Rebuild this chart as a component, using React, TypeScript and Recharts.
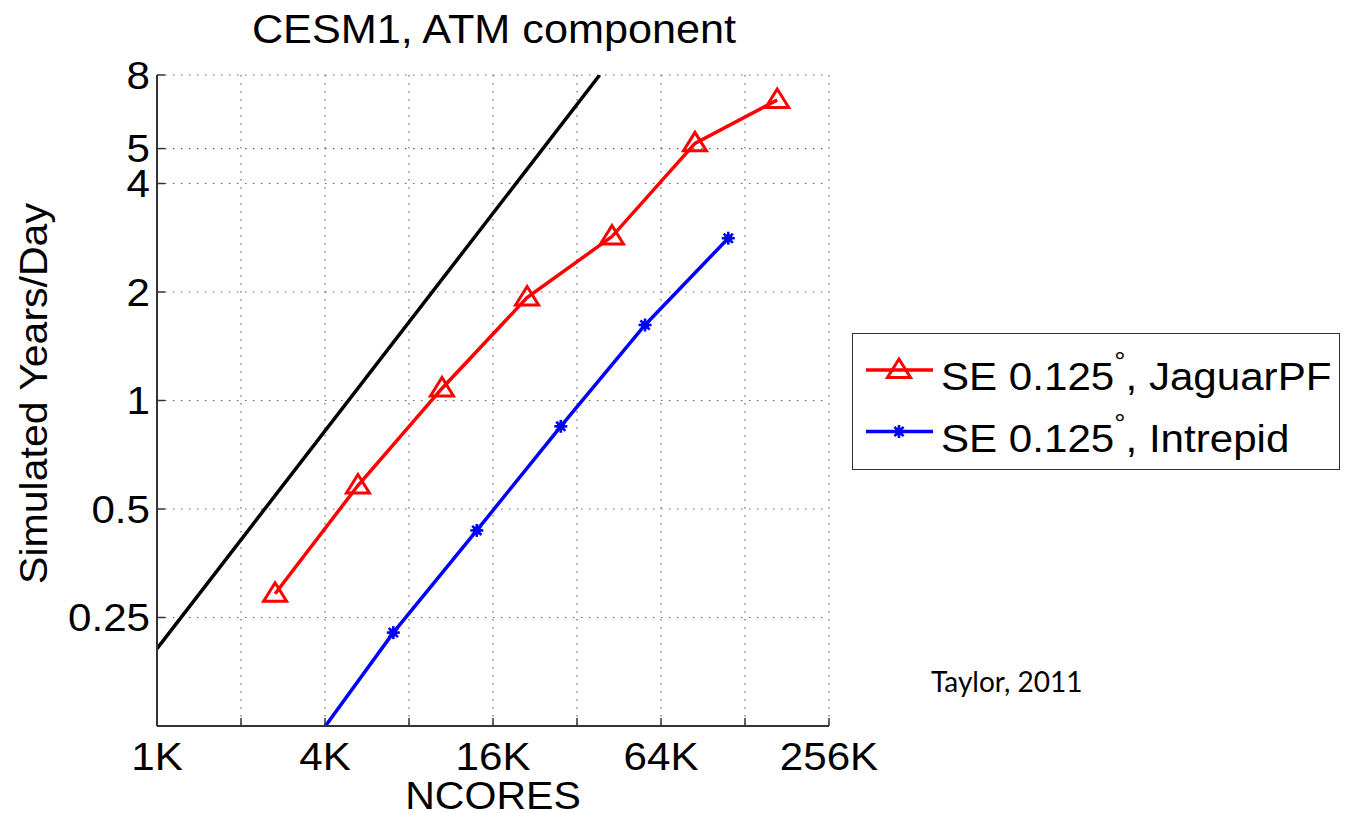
import React from 'react';
import { LineChart, Line, XAxis, YAxis, CartesianGrid, Legend } from 'recharts';

// ---------- data (x in thousands of cores) ----------
const xTicks = [1, 2, 4, 8, 16, 32, 64, 128, 256];
const xTickLabels: Record<number, string> = { 1: '1K', 4: '4K', 16: '16K', 64: '64K', 256: '256K' };
const yTicks = [0.25, 0.5, 1, 2, 4, 5, 8];

const jaguarCores = [2.65, 5.25, 10.5, 21.2, 42.7, 84.7, 167];
const jaguarRate = [0.291, 0.581, 1.08, 1.93, 2.85, 5.17, 6.82];

const intrepidCores = [3.53, 7.03, 14.0, 28.0, 56.1, 111.5];
const intrepidRate = [0.109, 0.227, 0.436, 0.848, 1.62, 2.82];

const idealCores = [1, 38.6];
const idealRate = [0.205, 8];

const jaguarName = 'SE 0.125°, JaguarPF';
const intrepidName = 'SE 0.125°, Intrepid';
const legendOrder = [jaguarName, intrepidName];

const jaguarData = jaguarCores.map((x, i) => ({ x, y: jaguarRate[i] }));
const intrepidData = intrepidCores.map((x, i) => ({ x, y: intrepidRate[i] }));
const idealData = idealCores.map((x, i) => ({ x, y: idealRate[i] }));

const X_DOMAIN: [number, number] = [1, 256];
const Y_DOMAIN: [number, number] = [0.125, 8];

const FONT = "'Liberation Sans', Arial, Helvetica, sans-serif";
const AXIS_COLOR = '#333';
const TICK_LEN = 8;
const SX = 1.08; // horizontal stretch of the original lettering

const SText = ({ x, y, anchor = 'start', size, rotate = 0, children }: any) => (
  <text
    transform={`translate(${x} ${y}) rotate(${rotate}) scale(${SX} 1)`}
    textAnchor={anchor}
    fontFamily={FONT}
    fontSize={size}
    fill="#000"
  >
    {children}
  </text>
);

// ---------- markers ----------
const Triangle = ({ cx, cy, color }: any) => (
  <polygon
    points={`${cx},${cy - 11} ${cx - 11.5},${cy + 7.5} ${cx + 11.5},${cy + 7.5}`}
    fill="none"
    stroke={color}
    strokeWidth={3}
  />
);

const Star = ({ cx, cy, color }: any) => {
  const r = 6.5;
  return (
    <g>
      <circle cx={cx} cy={cy} r={4} fill={color} />
      {[0, 45, 90, 135].map((a) => {
        const dx = r * Math.cos((a * Math.PI) / 180);
        const dy = r * Math.sin((a * Math.PI) / 180);
        return <line key={a} x1={cx - dx} y1={cy - dy} x2={cx + dx} y2={cy + dy} stroke={color} strokeWidth={2.6} />;
      })}
    </g>
  );
};

const inDomain = (p: any) =>
  p && p.x >= X_DOMAIN[0] && p.x <= X_DOMAIN[1] && p.y >= Y_DOMAIN[0] && p.y <= Y_DOMAIN[1];

const triangleDot = (props: any) => {
  const { cx, cy, index, payload } = props;
  if (!inDomain(payload) || cx == null || cy == null) return <g key={`t-${index}`} />;
  return <g key={`t-${index}`}><Triangle cx={cx} cy={cy} color="#ff0000" /></g>;
};

const starDot = (props: any) => {
  const { cx, cy, index, payload } = props;
  if (!inDomain(payload) || cx == null || cy == null) return <g key={`s-${index}`} />;
  return <g key={`s-${index}`}><Star cx={cx} cy={cy} color="#0000ff" /></g>;
};

// ---------- ticks ----------
const XTickBottom = (props: any) => {
  const { x, y, payload } = props;
  const label = xTickLabels[payload.value];
  return (
    <g>
      <line x1={x} y1={y} x2={x} y2={y - TICK_LEN} stroke={AXIS_COLOR} strokeWidth={1.5} />
      {label ? <SText x={x} y={y + 44} anchor="middle" size={39}>{label}</SText> : null}
    </g>
  );
};

const XTickTop = (props: any) => {
  const { x, y } = props;
  return <line x1={x} y1={y} x2={x} y2={y + TICK_LEN} stroke={AXIS_COLOR} strokeWidth={1.5} />;
};

const YTickLeft = (props: any) => {
  const { x, y, payload } = props;
  return (
    <g>
      <line x1={x} y1={y} x2={x + TICK_LEN} y2={y} stroke={AXIS_COLOR} strokeWidth={1.5} />
      <SText x={x - 7} y={y + 13.5} anchor="end" size={39}>{String(payload.value)}</SText>
    </g>
  );
};

const YTickRight = (props: any) => {
  const { x, y } = props;
  return <line x1={x} y1={y} x2={x - TICK_LEN} y2={y} stroke={AXIS_COLOR} strokeWidth={1.5} />;
};

// ---------- labels ----------
const xLabel = (props: any) => {
  const vb = props.viewBox || {};
  return <SText x={vb.x + vb.width / 2} y={vb.y + 83} anchor="middle" size={38}>NCORES</SText>;
};

const yLabel = (props: any) => {
  const vb = props.viewBox || {};
  return (
    <SText x={vb.x + 47} y={vb.y + vb.height / 2 - 7} anchor="middle" size={38} rotate={-90}>
      Simulated Years/Day
    </SText>
  );
};

// ---------- legend ----------
const renderName = (name: string, fs: number) => {
  const parts = name.split('°');
  return (
    <>
      <tspan>{parts[0]}</tspan>
      <tspan fontSize={26} dy={-20}>°</tspan>
      <tspan fontSize={fs} dy={20}>{parts[1]}</tspan>
    </>
  );
};

const renderLegend = (props: any) => {
  const items = (props.payload || [])
    .filter((p: any) => p.type !== 'none' && legendOrder.includes(p.value))
    .sort((a: any, b: any) => legendOrder.indexOf(a.value) - legendOrder.indexOf(b.value));
  return (
    <div
      style={{
        position: 'relative',
        width: 488,
        height: 137,
        boxSizing: 'border-box',
        border: `1.5px solid ${AXIS_COLOR}`,
        background: '#fff',
        overflow: 'hidden',
      }}
    >
      <svg width={488} height={137} style={{ display: 'block', position: 'absolute', left: -1.5, top: -1.5 }}>
        {items.map((entry: any, i: number) => {
          const cy = 37 + i * 61.5;
          const color = entry.color;
          const isJaguar = entry.value === jaguarName;
          return (
            <g key={entry.value}>
              <line x1={14} y1={cy} x2={81} y2={cy} stroke={color} strokeWidth={3.5} />
              {isJaguar ? <Triangle cx={47} cy={cy} color={color} /> : <Star cx={47} cy={cy} color={color} />}
              <SText x={89} y={cy + 20} size={39}>{renderName(entry.value, 39)}</SText>
            </g>
          );
        })}
      </svg>
    </div>
  );
};

export default function App() {
  return (
    <div style={{ position: 'absolute', left: 0, top: 0, width: 1345, height: 813, background: '#fff' }}>
      <div
        style={{
          position: 'absolute',
          left: 0,
          top: 9,
          width: 988,
          textAlign: 'center',
          fontFamily: FONT,
          fontSize: 40,
          lineHeight: '40px',
          color: '#000',
          whiteSpace: 'nowrap',
          transform: `scaleX(${SX})`,
          transformOrigin: '494px 0',
        }}
      >
        CESM1, ATM component
      </div>
      <LineChart width={1345} height={813} margin={{ top: 75, right: 516, bottom: 0, left: 0 }}>
        <CartesianGrid stroke="#666" strokeDasharray="1.5 6.5" strokeWidth={1.2} />
        <XAxis
          dataKey="x"
          type="number"
          scale="log"
          domain={X_DOMAIN}
          allowDataOverflow
          ticks={xTicks}
          interval={0}
          height={87}
          tickSize={0}
          tickMargin={0}
          tickLine={false}
          tick={XTickBottom}
          axisLine={{ stroke: AXIS_COLOR, strokeWidth: 2 }}
          label={xLabel}
        />
        <XAxis
          xAxisId="top"
          orientation="top"
          dataKey="x"
          type="number"
          scale="log"
          domain={X_DOMAIN}
          allowDataOverflow
          ticks={xTicks}
          interval={0}
          height={0}
          tickSize={0}
          tickMargin={0}
          tickLine={false}
          tick={XTickTop}
          axisLine={{ stroke: AXIS_COLOR, strokeWidth: 2 }}
        />
        <YAxis
          type="number"
          scale="log"
          domain={Y_DOMAIN}
          allowDataOverflow
          ticks={yTicks}
          interval={0}
          width={157}
          tickSize={0}
          tickMargin={0}
          tickLine={false}
          tick={YTickLeft}
          axisLine={{ stroke: AXIS_COLOR, strokeWidth: 2 }}
          label={yLabel}
        />
        <YAxis
          yAxisId="right"
          orientation="right"
          type="number"
          scale="log"
          domain={Y_DOMAIN}
          allowDataOverflow
          ticks={yTicks}
          interval={0}
          width={0}
          tickSize={0}
          tickMargin={0}
          tickLine={false}
          tick={YTickRight}
          axisLine={{ stroke: AXIS_COLOR, strokeWidth: 2 }}
        />
        <Legend
          layout="horizontal"
          verticalAlign="middle"
          align="center"
          content={renderLegend}
          wrapperStyle={{ position: 'absolute', left: 852, top: 333, width: 488, height: 137 }}
        />
        <Line
          data={idealData}
          dataKey="y"
          name="ideal"
          legendType="none"
          stroke="#000"
          strokeWidth={3.5}
          dot={false}
          activeDot={false}
          isAnimationActive={false}
        />
        <Line
          data={jaguarData}
          dataKey="y"
          name={jaguarName}
          stroke="#ff0000"
          strokeWidth={3.5}
          dot={triangleDot}
          activeDot={false}
          isAnimationActive={false}
        />
        <Line
          data={intrepidData}
          dataKey="y"
          name={intrepidName}
          stroke="#0000ff"
          strokeWidth={3.5}
          dot={starDot}
          activeDot={false}
          isAnimationActive={false}
        />
      </LineChart>
      <div
        style={{
          position: 'absolute',
          left: 931,
          top: 667,
          fontFamily: "Lato, 'Open Sans', sans-serif",
          fontSize: 28,
          lineHeight: '28px',
          color: '#000',
          whiteSpace: 'nowrap',
        }}
      >
        Taylor, 2011
      </div>
    </div>
  );
}
